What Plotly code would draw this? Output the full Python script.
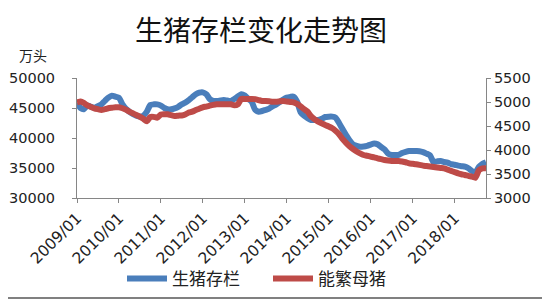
import pandas as pd
import plotly.graph_objects as go

# Monthly data, 2009/01 .. 2018/10
months = pd.date_range("2009-01-01", "2018-10-01", freq="MS")

hog_stock = [  # 生猪存栏 (万头), left axis
    45780, 45000, 44800, 45400, 45200, 45060, 45300, 45610, 46200, 46720, 47060, 46900,
    46700, 45600, 44900, 44400, 44000, 43720, 43560, 43700, 44390, 45500, 45610, 45610,
    45400, 45000, 44780, 44800, 44950, 45200, 45610, 45900, 46300, 46800, 47280, 47550,
    47610, 47300, 46500, 46170, 46170, 46250, 46330, 46250, 46170, 46500, 46900, 47280,
    47060, 46500, 46060, 44700, 44390, 44500, 44700, 44900, 45300, 45600, 46000, 46400,
    46720, 46850, 46890, 46060, 44300, 43700, 43300, 43000, 43000, 43000, 43200, 43500,
    43560, 43560, 43400, 42500, 41500, 40500, 39600, 38900, 38700, 38560, 38600, 38700,
    38900, 39100, 38950, 38500, 38100, 37400, 37170, 37170, 37200, 37500, 37700, 37830,
    37850, 37830, 37800, 37650, 37400, 37100, 36000, 36100, 36170, 36000, 35900, 35650,
    35550, 35400, 35300, 35220, 34950, 34500, 34280, 35200, 35700, 35950,
]

sows = [  # 能繁母猪 (万头), right axis
    4994, 5010, 4980, 4930, 4900, 4869, 4850, 4833, 4850, 4869, 4880, 4890,
    4890, 4870, 4840, 4800, 4765, 4730, 4694, 4650, 4600, 4690, 4690, 4673,
    4740, 4744, 4744, 4725, 4708, 4715, 4720, 4740, 4780, 4800, 4833, 4860,
    4890, 4905, 4923, 4940, 4952, 4952, 4952, 4952, 4952, 4930, 4950, 5063,
    5063, 5063, 5063, 5060, 5040, 5021, 5021, 5015, 5007, 5007, 5015, 5021,
    5010, 5000, 4994, 4960, 4910, 4850, 4798, 4700, 4640, 4590, 4555, 4521,
    4490, 4452, 4400, 4330, 4230, 4150, 4080, 4020, 3970, 3930, 3896, 3880,
    3861, 3845, 3827, 3810, 3792, 3780, 3771, 3771, 3771, 3760, 3745, 3722,
    3712, 3702, 3690, 3675, 3665, 3655, 3645, 3635, 3625, 3618, 3590, 3565,
    3540, 3514, 3495, 3479, 3460, 3444, 3424, 3580, 3618, 3620,
]

tick_dates = [f"{y}-01-01" for y in range(2009, 2019)]
tick_labels = [f"{y}/01" for y in range(2009, 2019)]

title_text = "生猪存栏变化走势图"
unit_text = "万头"
name_hog = "生猪存栏"
name_sow = "能繁母猪"

BLUE = "#4a7ebb"
RED = "#be4b48"
AX = "#868686"
FONT = "DejaVu Sans"
CJK = "Noto Sans CJK SC"
TXT = "#222222"

fig = go.Figure()
fig.add_trace(go.Scatter(x=months, y=hog_stock, name=name_hog, mode="lines",
                         line=dict(color=BLUE, width=6, shape="spline", smoothing=0.6)))
fig.add_trace(go.Scatter(x=months, y=sows, name=name_sow, mode="lines", yaxis="y2",
                         line=dict(color=RED, width=6, shape="spline", smoothing=0.6)))

OFF = 8  # page body margin in the browser
W, H = 550 - OFF, 300 - OFF
L, T = 77 - OFF, 78 - OFF
R = W - (486 - OFF)
B = H - (198 - OFF)
pw, ph = W - L - R, H - T - B

fig.update_layout(
    width=W, height=H,
    margin=dict(l=L, r=R, t=T, b=B, autoexpand=False),
    paper_bgcolor="white", plot_bgcolor="white",
    font=dict(family=FONT, size=14, color=TXT),
    title=dict(text=title_text, x=(261 - OFF) / W, y=1 - (31 - OFF) / H,
               xanchor="center", yanchor="middle",
               font=dict(family=CJK, size=28, color="#111111")),
    xaxis=dict(type="date", range=["2009-01-01", "2018-10-01"], tickvals=tick_dates,
               ticktext=tick_labels, tickangle=-45, showgrid=False, showline=True,
               linecolor=AX, linewidth=1, ticks="outside", ticklen=4, tickcolor=AX,
               tickfont=dict(family=FONT, size=15.5, color=TXT), zeroline=False,
               automargin=False),
    yaxis=dict(range=[30000, 50000], dtick=5000, tickformat="d", showgrid=False, showline=True,
               linecolor=AX, linewidth=1, ticks="outside", ticklen=4, tickcolor=AX,
               ticklabelstandoff=14,
               tickfont=dict(family=FONT, size=14.5, color=TXT), zeroline=False,
               automargin=False),
    yaxis2=dict(range=[3000, 5500], dtick=500, tickformat="d", overlaying="y", side="right",
                showgrid=False, showline=True, linecolor=AX, linewidth=1, ticks="outside",
                ticklen=4, tickcolor=AX, tickfont=dict(family=FONT, size=14.5, color=TXT),
                zeroline=False, automargin=False),
    showlegend=True,
    legend=dict(orientation="h", xref="container", yref="container",
                x=(122 - OFF) / W, y=1 - (279 - OFF) / H, entrywidth=91,
                xanchor="left", yanchor="middle", font=dict(family=CJK, size=17, color=TXT),
                bgcolor="rgba(0,0,0,0)", itemwidth=40, traceorder="normal"),
    annotations=[dict(text=unit_text, xref="paper", yref="paper", x=(33 - 77) / pw,
                      y=(198 - 55) / ph, showarrow=False, xanchor="center", yanchor="middle",
                      font=dict(family=CJK, size=14, color=TXT))],
    shapes=[
        dict(type="line", xref="paper", yref="paper",
             x0=(W - 2 - L) / pw, x1=(W - 2 - L) / pw,
             y0=(T + ph) / ph, y1=(T + ph - H) / ph,
             line=dict(color="#808080", width=2), layer="above"),
        dict(type="line", xref="paper", yref="paper",
             x0=-L / pw, x1=(W - L) / pw,
             y0=(T + ph - (H - 2)) / ph, y1=(T + ph - (H - 2)) / ph,
             line=dict(color="#808080", width=2), layer="above"),
    ],
)

fig.write_html("out.html")
